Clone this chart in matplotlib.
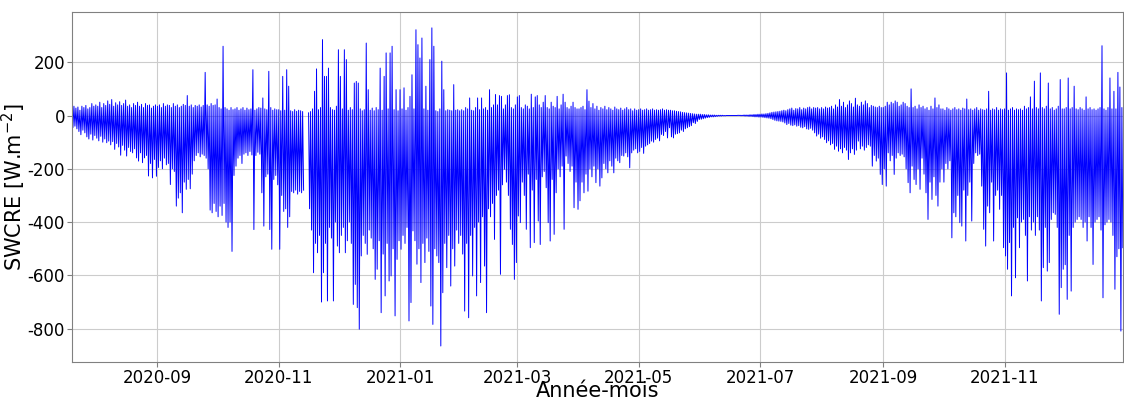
import numpy as np
import pandas as pd
import matplotlib
matplotlib.use("Agg")
import matplotlib.pyplot as plt
import matplotlib.dates as mdates

plt.rcParams["axes.unicode_minus"] = False

nan = np.nan
start = "2020-07-20"

# daily minimum of SWCRE (W m-2), one value per day from the start date
swcre_min = [
    # 2020-07 (from the 20th)
    -45, -40, -50, -60, -72, -55, -65, -80, -88, -70, -92, -75,
    # 2020-08
    -85, -95, -78, -100, -88, -102, -96, -110, -98, -127, -105, -118, -149, -112, -130, -152,
    -120, -135, -140, -125, -159, -171, -140, -177, -159, -150, -227, -180, -234, -165, -228,
    # 2020-09
    -195, -170, -200, -160, -185, -180, -259, -200, -210, -340, -310, -290, -365, -250, -277,
    -240, -275, -220, -170, -150, -140, -155, -145, -150, -160, -200, -355, -365, -330, -360,
    # 2020-10
    -380, -340, -375, -330, -400, -420, -400, -510, -225, -190, -160, -150, -180, -145, -140, -150,
    -135, -148, -428, -150, -138, -145, -290, -415, -230, -220, -428, -502, -240, -225, -260,
    # 2020-11
    -502, -300, -360, -350, -420, -380, -285, -290, -280, -295, -285, -290, -280, nan, nan,
    -350, -430, -590, -480, -515, -450, -700, -590, -480, -696, -420, -460, -696, -400, -490,
    # 2020-12
    -515, -450, -420, -515, -470, -400, -480, -709, -634, -721, -802, -527, -450, -480, -521, -430,
    -460, -500, -615, -577, -470, -740, -520, -677, -480, -621, -602, -500, -752, -540, -470,
    # 2021-01
    -502, -450, -480, -420, -771, -702, -433, -470, -558, -500, -627, -480, -552, -460, -510, -715,
    -784, -500, -527, -552, -865, -665, -480, -571, -450, -640, -500, -565, -430, -480, -450,
    # 2021-02
    -520, -734, -480, -759, -450, -602, -420, -677, -400, -627, -380, -565, -740, -350,
    -380, -330, -465, -300, -280, -596, -260, -202, -250, -300, -427, -484, -615, -552,
    # 2021-03
    -377, -402, -250, -300, -427, -220, -496, -280, -477, -240, -396, -484, -230, -210, -271, -402,
    -471, -240, -446, -290, -200, -230, -190, -427, -152, -180, -210, -190, -346, -250, -352,
    # 2021-04
    -320, -250, -290, -220, -284, -200, -230, -190, -252, -200, -265, -234, -180, -200, -215,
    -170, -190, -215, -160, -170, -177, -150, -152, -140, -155, -196, -140, -130, -125, -140,
    # 2021-05
    -135, -120, -142, -115, -110, -105, -96, -100, -90, -85, -95, -71, -75, -60, -84, -46,
    -80, -84, -70, -68, -65, -55, -60, -50, -46, -42, -38, -27, -30, -22, -15,
    # 2021-06
    -14, -12, -10, -8, -7, -5, -5, -4, -3, -2, -2, -1, -1, 0, 0,
    0, 0, 0, 0, 0, -1, -1, -2, -2, -3, -3, -4, -5, -5, -6,
    # 2021-07
    -6, -7, -8, -9, -10, -12, -15, -18, -20, -21, -22, -24, -28, -34, -30, -36,
    -38, -35, -40, -38, -44, -46, -42, -50, -52, -48, -55, -65, -77, -70, -85,
    # 2021-08
    -80, -90, -102, -95, -110, -105, -127, -115, -134, -125, -140, -120, -130, -165, -140, -125,
    -146, -130, -96, -125, -115, -130, -120, -110, -115, -190, -150, -171, -160, -221, -259,
    # 2021-09
    -200, -265, -140, -170, -150, -221, -160, -140, -150, -145, -155, -200, -252, -290, -190,
    -240, -259, -200, -277, -160, -220, -290, -390, -250, -315, -230, -300, -340, -250, -200,
    # 2021-10
    -250, -180, -200, -170, -459, -365, -380, -300, -402, -415, -280, -471, -300, -250, -396, -180,
    -140, -150, -145, -265, -427, -490, -340, -365, -250, -471, -300, -280, -352, -300, -496,
    # 2021-11
    -527, -577, -477, -677, -420, -609, -384, -496, -400, -390, -450, -621, -380, -430, -400,
    -450, -380, -430, -696, -571, -420, -584, -552, -390, -365, -371, -420, -746, -646, -577,
    # 2021-12 (to the 30th)
    -560, -690, -450, -659, -420, -400, -390, -380, -390, -420, -400, -471, -380, -420, -559,
    -400, -390, -380, -430, -684, -410, -400, -390, -400, -450, -652, -530, -500, -809, -496,
]

# daily maximum of SWCRE (W m-2)
swcre_max = [
    # 2020-07
    30, 35, 28, 32, 20, 35, 30, 38, 25, 30, 45, 35,
    # 2020-08
    40, 35, 50, 30, 45, 38, 55, 42, 60, 35, 48, 40, 52, 38, 45, 58,
    35, 40, 30, 45, 38, 50, 35, 42, 30, 45, 38, 40, 28, 35, 40,
    # 2020-09
    35, 40, 30, 45, 35, 40, 38, 30, 45, 35, 40, 30, 35, 42, 38,
    75, 35, 40, 30, 38, 35, 40, 32, 38, 162, 40, 35, 45, 38, 40,
    # 2020-10
    62, 30, 25, 260, 30, 25, 20, 30, 22, 25, 30, 20, 25, 30, 20, 28,
    22, 25, 172, 20, 25, 30, 28, 66, 25, 22, 166, 30, 20, 25, 22,
    # 2020-11
    22, 18, 147, 20, 172, 110, 18, 15, 22, 16, 20, 18, 15, nan, nan,
    10, 15, 25, 91, 175, 22, 30, 285, 147, 147, 178, 30, 22, 20, 35,
    # 2020-12
    247, 147, 25, 247, 210, 20, 30, 22, 122, 128, 122, 25, 18, 22, 272, 97,
    20, 28, 18, 30, 22, 178, 20, 147, 235, 25, 235, 260, 22, 97, 18,
    # 2021-01
    97, 25, 104, 20, 30, 72, 153, 25, 322, 266, 216, 291, 25, 110, 20, 210,
    329, 260, 18, 15, 25, 204, 97, 18, 22, 20, 18, 116, 20, 22, 18,
    # 2021-02
    22, 18, 30, 25, 66, 20, 18, 30, 66, 22, 66, 25, 30, 20,
    97, 30, 40, 79, 40, 75, 72, 25, 40, 75, 78, 30, 25, 40,
    # 2021-03
    70, 75, 30, 25, 40, 35, 25, 80, 30, 70, 75, 40, 30, 50, 75, 30,
    25, 50, 35, 30, 72, 25, 40, 80, 50, 30, 25, 35, 50, 30, 25,
    # 2021-04
    25, 30, 35, 22, 97, 54, 30, 45, 25, 35, 20, 30, 25, 35, 22,
    30, 25, 20, 32, 25, 22, 28, 20, 25, 30, 22, 25, 18, 25, 20,
    # 2021-05
    22, 25, 20, 22, 25, 20, 22, 25, 20, 22, 20, 22, 25, 20, 22, 20,
    20, 18, 18, 16, 15, 14, 12, 11, 10, 9, 8, 7, 6, 5, 5,
    # 2021-06
    5, 4, 4, 3, 3, 2, 2, 2, 1, 1, 1, 1, 0, 0, 0,
    0, 0, 0, 0, 1, 1, 1, 2, 2, 2, 3, 3, 4, 4, 5,
    # 2021-07
    5, 6, 6, 7, 8, 10, 12, 13, 14, 15, 16, 18, 20, 18, 22, 25,
    28, 20, 26, 25, 30, 22, 28, 25, 30, 32, 25, 30, 28, 30, 25,
    # 2021-08
    30, 25, 32, 28, 30, 35, 25, 40, 32, 60, 35, 50, 30, 40, 55, 45,
    32, 65, 40, 35, 50, 40, 55, 45, 30, 38, 35, 32, 30, 35, 30,
    # 2021-09
    30, 35, 50, 40, 50, 45, 55, 50, 35, 40, 50, 45, 35, 30, 100,
    30, 35, 25, 40, 30, 35, 25, 30, 20, 35, 25, 66, 30, 40, 25,
    # 2021-10
    25, 20, 30, 25, 20, 25, 30, 22, 25, 20, 28, 25, 62, 22, 25, 20,
    25, 30, 20, 25, 22, 20, 25, 91, 20, 25, 22, 30, 20, 25, 22,
    # 2021-11
    25, 160, 20, 25, 30, 20, 25, 22, 25, 20, 35, 25, 30, 70, 25,
    129, 30, 25, 160, 30, 25, 35, 122, 25, 30, 20, 25, 35, 135, 25,
    # 2021-12
    25, 30, 141, 25, 30, 110, 25, 22, 30, 25, 20, 70, 25, 30, 22,
    25, 20, 25, 30, 262, 25, 20, 30, 141, 25, 91, 25, 162, 107, 30,
]

days = pd.date_range(start, periods=len(swcre_min), freq="D")
# night value at midnight, daytime minimum at noon
t = np.column_stack([days.values, (days + pd.Timedelta(hours=12)).values]).ravel()
v = np.column_stack([swcre_max, swcre_min]).ravel()

fig, ax = plt.subplots(figsize=(11.24, 3.99), dpi=100)
fig.subplots_adjust(left=0.064, right=0.999, top=0.970, bottom=0.093)

ax.plot(t, v, color="blue", lw=0.7)

ax.set_xlim(t[0], t[-1])
ax.xaxis.set_major_locator(mdates.MonthLocator(bymonth=[1, 3, 5, 7, 9, 11]))
ax.xaxis.set_major_formatter(mdates.DateFormatter("%Y-%m"))
ax.grid(True, color="#cccccc", lw=0.8)
ax.set_axisbelow(True)
for s in ax.spines.values():
    s.set_color("#808080")
ax.tick_params(labelsize=12, color="#808080", length=3.5, pad=1.5)

ax.set_xlabel("Année-mois", fontsize=15, va="baseline")
ax.xaxis.set_label_coords(0.5, -0.100)
ax.set_ylabel("SWCRE [W.m$^{-2}$]", fontsize=15, va="center")
ax.yaxis.set_label_coords(-0.0555, 0.5)

fig.savefig("out.png", dpi=100)
